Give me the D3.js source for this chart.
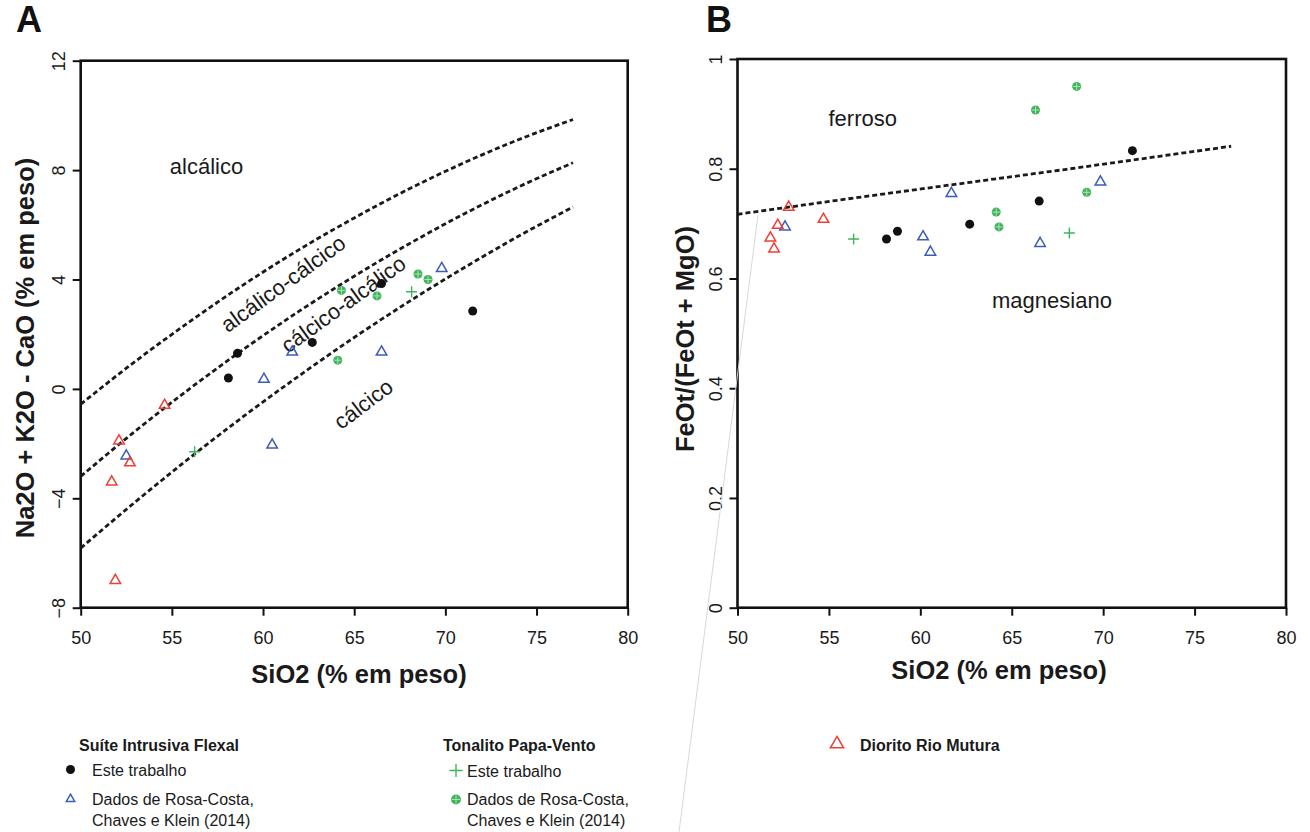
<!DOCTYPE html>
<html>
<head>
<meta charset="utf-8">
<script src="https://cdn.jsdelivr.net/npm/d3@7"></script>
<style>
  html, body { margin: 0; padding: 0; background: #fff; }
  svg { display: block; font-family: "Liberation Sans", Arial, Helvetica, sans-serif; }
</style>
</head>
<body>
<svg id="chart" width="1310" height="832"></svg>
<script>
// ---------------- DATA ----------------
// Panel A: SiO2 vs Na2O + K2O - CaO (MALI)
const flexalThisSiO2A   = [58.1, 58.6, 62.7, 66.5, 71.5];
const flexalThisMALI    = [0.4, 1.3, 1.7, 3.85, 2.85];
const flexalRosaSiO2A   = [60.05, 61.6, 66.5, 69.8, 60.5, 52.5];
const flexalRosaMALI    = [0.35, 1.35, 1.35, 4.4, -2.05, -2.45];
const papaThisSiO2A     = [68.15, 56.25];
const papaThisMALI      = [3.55, -2.3];
const papaRosaSiO2A     = [64.3, 66.25, 68.5, 69.05, 64.1];
const papaRosaMALI      = [3.6, 3.4, 4.2, 4.0, 1.05];
const muturaSiO2A       = [54.6, 52.1, 52.7, 51.7, 51.9];
const muturaMALI        = [-0.6, -1.9, -2.7, -3.4, -7.0];

// Panel A boundary curves
const boundarySiO2      = [50, 53, 56, 59, 62, 65, 68, 71, 74, 77];
const alkalicBoundary   = [-0.56, 1.01, 2.47, 3.84, 5.10, 6.25, 7.31, 8.26, 9.11, 9.85];
const alkCalcBoundary   = [-3.20, -1.54, 0.02, 1.48, 2.85, 4.12, 5.30, 6.39, 7.38, 8.27];
const calcAlkBoundary   = [-5.82, -4.13, -2.51, -0.97, 0.49, 1.88, 3.19, 4.42, 5.58, 6.65];

// Panel B: SiO2 vs FeOt/(FeOt + MgO)
const flexalThisSiO2B   = [58.15, 58.75, 62.7, 66.5, 71.6];
const flexalThisFe      = [0.672, 0.686, 0.699, 0.741, 0.833];
const flexalRosaSiO2B   = [52.6, 61.7, 60.15, 60.55, 66.55, 69.85];
const flexalRosaFe      = [0.694, 0.755, 0.676, 0.648, 0.664, 0.776];
const papaThisSiO2B     = [56.35, 68.15];
const papaThisFe        = [0.672, 0.683];
const papaRosaSiO2B     = [66.3, 68.55, 64.15, 64.3, 69.1];
const papaRosaFe        = [0.907, 0.950, 0.721, 0.694, 0.757];
const muturaSiO2B       = [52.8, 52.2, 51.8, 52.0, 54.7];
const muturaFe          = [0.730, 0.697, 0.674, 0.654, 0.708];

const feBoundarySiO2    = [50, 56, 62, 68, 74, 77];
const feBoundary        = [0.717, 0.745, 0.772, 0.799, 0.827, 0.841];

// Ticks
const xTicks  = [50, 55, 60, 65, 70, 75, 80];
const yTicksA = [-8, -4, 0, 4, 8, 12];
const yTicksB = [0, 0.2, 0.4, 0.6, 0.8, 1];

// Region labels
const regionLabelsA = [
  {text: "alcálico",          x: 56.9, y: 8.15, rot: 0},
  {text: "alcálico-cálcico",  x: 61.1, y: 3.85, rot: -36},
  {text: "cálcico-alcálico",  x: 64.4, y: 3.1,  rot: -36},
  {text: "cálcico",           x: 65.5, y: -0.55, rot: -37}
];
const regionLabelsB = [
  {text: "ferroso",    x: 56.85, y: 0.892, rot: 0},
  {text: "magnesiano", x: 67.2,  y: 0.56,  rot: 0}
];

// ---------------- STYLE ----------------
const C_BLACK = "#111111";
const C_BLUE  = "#3d5cb8";
const C_RED   = "#ee3f34";
const C_GREEN = "#3fb45a";

const svg = d3.select("#chart");

const zip = (xs, ys) => xs.map((x, i) => [x, ys[i]]);

function drawPoints(g, x, y, data, kind) {
  const sel = g.append("g").selectAll("g").data(data).join("g")
    .attr("transform", d => `translate(${x(d[0])},${y(d[1])})`);
  drawSymbol(sel, kind, 1);
}

function drawSymbol(sel, kind, scale) {
  if (kind === "dot") {
    sel.append("circle").attr("r", 4.5 * scale).attr("fill", C_BLACK);
  } else if (kind === "triBlue" || kind === "triRed") {
    sel.append("path")
      .attr("d", d3.symbol().type(d3.symbolTriangle).size(48 * scale * scale)())
      .attr("fill", "none")
      .attr("stroke", kind === "triBlue" ? C_BLUE : C_RED)
      .attr("stroke-width", 1.5);
  } else if (kind === "plus") {
    const a = 5.5 * scale;
    sel.append("path").attr("d", `M${-a},0H${a}M0,${-a}V${a}`)
      .attr("stroke", C_GREEN).attr("stroke-width", 1.4).attr("fill", "none");
  } else if (kind === "ocircle") {
    const r = 4.5 * scale;
    sel.append("circle").attr("r", r).attr("fill", C_GREEN);
    sel.append("path").attr("d", `M${-r + 0.8},0H${r - 0.8}M0,${-r + 0.8}V${r - 0.8}`)
      .attr("stroke", "#c8ecd0").attr("stroke-width", 0.8).attr("fill", "none");
  }
}

function panel(opts) {
  const {x0, x1, y0, y1, yDomain, yTicks, yFmt, ytitle, ytitleX, ytitleY, xtitleX, xtitleY, letter, letterX} = opts;
  const x = d3.scaleLinear().domain([50, 80]).range([x0, x1]);
  const y = d3.scaleLinear().domain(yDomain).range([y1, y0]);
  const g = svg.append("g");

  // axes (R style)
  const xa = g.append("g").attr("transform", `translate(0,${y1})`)
    .call(d3.axisBottom(x).tickValues(xTicks).tickSize(8).tickSizeOuter(0));
  const ya = g.append("g").attr("transform", `translate(${x0},0)`)
    .call(d3.axisLeft(y).tickValues(yTicks).tickFormat(yFmt).tickSize(8).tickSizeOuter(0));
  [xa, ya].forEach(a => {
    a.select(".domain").remove();
    a.selectAll(".tick line").attr("stroke", "#111").attr("stroke-width", 2);
    a.selectAll("text").attr("font-size", 18).attr("fill", "#1a1a1a")
      .attr("font-family", "'Liberation Sans', Arial, sans-serif");
  });
  xa.selectAll("text").attr("y", 36).attr("dy", 0);
  ya.selectAll("text")
    .attr("x", null).attr("dy", null)
    .attr("text-anchor", "middle")
    .attr("transform", "translate(-22,0) rotate(-90)")
    .attr("dy", "0.35em");

  // box
  g.append("rect").attr("x", x0).attr("y", y0).attr("width", x1 - x0).attr("height", y1 - y0)
    .attr("fill", "none").attr("stroke", "#111").attr("stroke-width", 2.6);

  // titles
  g.append("text").attr("x", xtitleX).attr("y", xtitleY)
    .attr("text-anchor", "middle").attr("font-size", 25.5).attr("font-weight", "bold").attr("fill", "#1a1a1a")
    .text("SiO2 (% em peso)");
  g.append("text").attr("transform", `translate(${ytitleX},${ytitleY}) rotate(-90)`)
    .attr("text-anchor", "middle").attr("font-size", 25.5).attr("font-weight", "bold").attr("fill", "#1a1a1a")
    .text(ytitle);
  g.append("text").attr("x", letterX).attr("y", 32)
    .attr("font-size", 36).attr("font-weight", "bold").attr("fill", "#111").text(letter);

  return {g, x, y};
}

// ---------------- PANEL A ----------------
const A = panel({
  x0: 80.7, x1: 627.7, y0: 60.7, y1: 607.7,
  yDomain: [-8, 12], yTicks: yTicksA, yFmt: d3.format("d"),
  ytitle: "Na2O + K2O - CaO (% em peso)", ytitleX: 34, ytitleY: 348,
  xtitleX: 359, xtitleY: 683,
  letter: "A", letterX: 16
});

const lineA = d3.line().x(d => A.x(d[0])).y(d => A.y(d[1])).curve(d3.curveMonotoneX);
[alkalicBoundary, alkCalcBoundary, calcAlkBoundary].forEach(b => {
  A.g.append("path").attr("d", lineA(zip(boundarySiO2, b)))
    .attr("fill", "none").attr("stroke", "#1a1a1a").attr("stroke-width", 2.8)
    .attr("stroke-dasharray", "5,3");
});

regionLabelsA.forEach(l => {
  A.g.append("text")
    .attr("transform", `translate(${A.x(l.x)},${A.y(l.y)}) rotate(${l.rot})`)
    .attr("text-anchor", "middle").attr("dy", "0.35em")
    .attr("font-size", 22).attr("fill", "#1a1a1a").text(l.text);
});

drawPoints(A.g, A.x, A.y, zip(flexalThisSiO2A, flexalThisMALI), "dot");
drawPoints(A.g, A.x, A.y, zip(flexalRosaSiO2A, flexalRosaMALI), "triBlue");
drawPoints(A.g, A.x, A.y, zip(papaThisSiO2A, papaThisMALI), "plus");
drawPoints(A.g, A.x, A.y, zip(papaRosaSiO2A, papaRosaMALI), "ocircle");
drawPoints(A.g, A.x, A.y, zip(muturaSiO2A, muturaMALI), "triRed");

// ---------------- PANEL B ----------------
const B = panel({
  x0: 737.5, x1: 1286, y0: 59, y1: 607.7,
  yDomain: [0, 1], yTicks: yTicksB, yFmt: d => (d === 0 || d === 1) ? String(d) : d.toFixed(1),
  ytitle: "FeOt/(FeOt + MgO)", ytitleX: 694, ytitleY: 339,
  xtitleX: 999, xtitleY: 679,
  letter: "B", letterX: 706
});

// faint artifact stroke seen in the original figure
svg.append("line").attr("x1", 758).attr("y1", 215).attr("x2", 679).attr("y2", 832)
  .attr("stroke", "#d8d8d8").attr("stroke-width", 1);

const lineB = d3.line().x(d => B.x(d[0])).y(d => B.y(d[1]));
B.g.append("path").attr("d", lineB(zip(feBoundarySiO2, feBoundary)))
  .attr("fill", "none").attr("stroke", "#1a1a1a").attr("stroke-width", 2.8)
  .attr("stroke-dasharray", "5,3");

regionLabelsB.forEach(l => {
  B.g.append("text")
    .attr("transform", `translate(${B.x(l.x)},${B.y(l.y)}) rotate(${l.rot})`)
    .attr("text-anchor", "middle").attr("dy", "0.35em")
    .attr("font-size", 22).attr("fill", "#1a1a1a").text(l.text);
});

drawPoints(B.g, B.x, B.y, zip(flexalThisSiO2B, flexalThisFe), "dot");
drawPoints(B.g, B.x, B.y, zip(flexalRosaSiO2B, flexalRosaFe), "triBlue");
drawPoints(B.g, B.x, B.y, zip(papaThisSiO2B, papaThisFe), "plus");
drawPoints(B.g, B.x, B.y, zip(papaRosaSiO2B, papaRosaFe), "ocircle");
drawPoints(B.g, B.x, B.y, zip(muturaSiO2B, muturaFe), "triRed");

// ---------------- LEGEND ----------------
const leg = svg.append("g").attr("font-size", 16).attr("fill", "#1a1a1a");
function legText(x, y, t, bold) {
  leg.append("text").attr("x", x).attr("y", y).attr("font-weight", bold ? "bold" : "normal").text(t);
}
function legSym(x, y, kind, s) {
  const g = leg.append("g").attr("transform", `translate(${x},${y})`);
  drawSymbol(g, kind, s);
}
legText(79, 751, "Suíte Intrusiva Flexal", true);
legSym(70.5, 769.5, "dot", 1);
legText(92, 776, "Este trabalho");
legSym(70.5, 799, "triBlue", 0.8);
legText(92, 805, "Dados de Rosa-Costa,");
legText(92, 826, "Chaves e Klein (2014)");

legText(443, 751, "Tonalito Papa-Vento", true);
legSym(456, 770.5, "plus", 1.2);
legText(467, 777, "Este trabalho");
legSym(456, 799.5, "ocircle", 1.1);
legText(467, 805, "Dados de Rosa-Costa,");
legText(467, 826, "Chaves e Klein (2014)");

legSym(837, 744, "triRed", 1.25);
legText(860, 751, "Diorito Rio Mutura", true);
</script>
</body>
</html>
